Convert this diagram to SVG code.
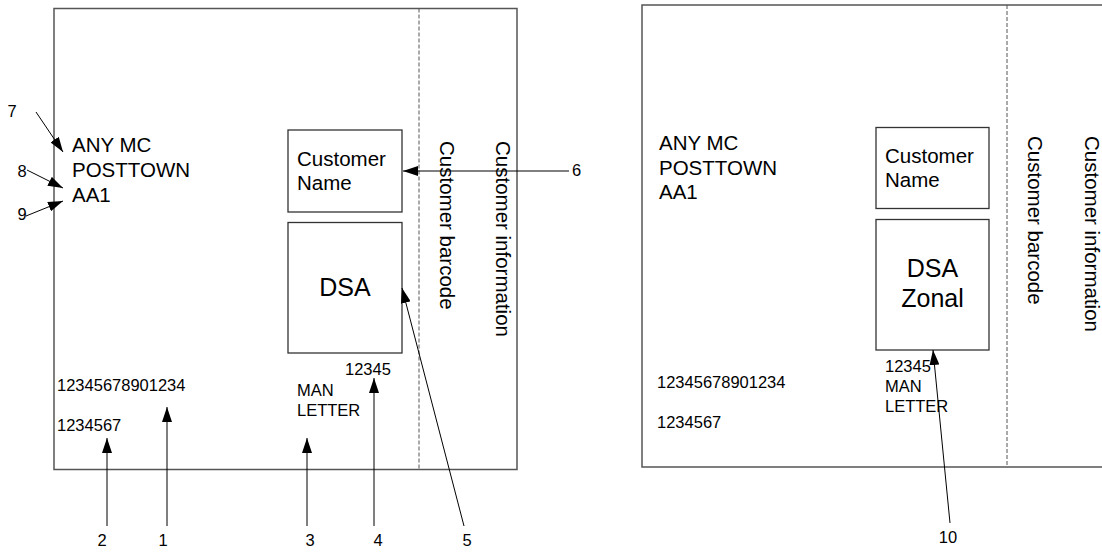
<svg xmlns="http://www.w3.org/2000/svg" width="1102" height="553" viewBox="0 0 1102 553">
<style>
.env{fill:none;stroke:#555;stroke-width:1.5}
.dash{stroke:#555;stroke-width:1;stroke-dasharray:4,2;fill:none}
.box{fill:#fff;stroke:#333;stroke-width:1.3}
.big{font-family:"Liberation Sans",Arial,sans-serif;font-size:20.5px;fill:#000}
.dsa{font-family:"Liberation Sans",Arial,sans-serif;font-size:25px;fill:#000;text-anchor:middle}
.sm{font-family:"Liberation Sans",Arial,sans-serif;font-size:16.5px;fill:#000}
.lbl{font-family:"Liberation Sans",Arial,sans-serif;font-size:16.5px;fill:#000;text-anchor:middle}
.arr{stroke:#000;stroke-width:1;fill:none;marker-end:url(#ah)}
</style>
<defs>
<marker id="ah" viewBox="0 0 15 10" refX="15" refY="5" markerWidth="15" markerHeight="10" markerUnits="userSpaceOnUse" orient="auto">
<path d="M0,0 L15,5 L0,10 z" fill="#000"/>
</marker>
</defs>
<g id="envelope-left">
<rect class="env" x="54" y="8.5" width="463" height="461"/>
<line class="dash" x1="419" y1="8.5" x2="419" y2="469.5"/>
<text class="big" x="72" y="152">ANY MC</text>
<text class="big" x="72" y="177">POSTTOWN</text>
<text class="big" x="72" y="202">AA1</text>
<text class="sm" x="57" y="391">12345678901234</text>
<text class="sm" x="57" y="431">1234567</text>
<text class="sm" x="345" y="375">12345</text>
<text class="sm" x="297" y="396">MAN</text>
<text class="sm" x="297" y="416">LETTER</text>
<text class="big" transform="translate(440,141) rotate(90)">Customer barcode</text>
<text class="big" transform="translate(496,141) rotate(90)">Customer information</text>
</g>
<g id="name-box-left">
<rect class="box" x="288" y="130" width="114" height="82"/>
<text class="big" x="297" y="166">Customer</text>
<text class="big" x="297" y="190">Name</text>
</g>
<g id="dsa-box-left">
<rect class="box" x="288" y="222.5" width="114" height="130.5"/>
<text class="dsa" x="345" y="296">DSA</text>
</g>
<g id="envelope-right">
<rect class="env" x="642" y="5" width="470" height="462"/>
<line class="dash" x1="1007" y1="5" x2="1007" y2="467"/>
<text class="big" x="659" y="150">ANY MC</text>
<text class="big" x="659" y="174.5">POSTTOWN</text>
<text class="big" x="659" y="199">AA1</text>
<text class="sm" x="657" y="388">12345678901234</text>
<text class="sm" x="657" y="428">1234567</text>
<text class="sm" x="885" y="372">12345</text>
<text class="sm" x="885" y="392">MAN</text>
<text class="sm" x="885" y="412">LETTER</text>
<text class="big" transform="translate(1028,136) rotate(90)">Customer barcode</text>
<text class="big" transform="translate(1085,136) rotate(90)">Customer information</text>
</g>
<g id="name-box-right">
<rect class="box" x="876" y="127.5" width="113" height="81"/>
<text class="big" x="885" y="163">Customer</text>
<text class="big" x="885" y="187">Name</text>
</g>
<g id="dsa-box-right">
<rect class="box" x="876" y="219.5" width="113" height="130.5"/>
<text class="dsa" x="932.5" y="277">DSA</text>
<text class="dsa" x="932.5" y="307">Zonal</text>
</g>
<g id="connectors">
<line class="arr" x1="36" y1="112" x2="63" y2="152"/>
<line class="arr" x1="27" y1="170" x2="63" y2="188"/>
<line class="arr" x1="26" y1="216" x2="63" y2="201"/>
<line class="arr" x1="569" y1="171" x2="403" y2="171"/>
<line class="arr" x1="107" y1="526" x2="107" y2="438"/>
<line class="arr" x1="167" y1="526" x2="167" y2="407"/>
<line class="arr" x1="307" y1="526" x2="307" y2="438"/>
<line class="arr" x1="374" y1="526" x2="374" y2="378"/>
<line class="arr" x1="464" y1="526" x2="402" y2="288"/>
<line class="arr" x1="950" y1="523" x2="933" y2="350"/>
</g>
<g id="labels">
<text class="lbl" x="12" y="117">7</text>
<text class="lbl" x="22" y="177">8</text>
<text class="lbl" x="22" y="220">9</text>
<text class="sm" x="572" y="176">6</text>
<text class="lbl" x="102" y="546">2</text>
<text class="lbl" x="163" y="546">1</text>
<text class="lbl" x="310" y="546">3</text>
<text class="lbl" x="378" y="546">4</text>
<text class="lbl" x="467" y="546">5</text>
<text class="lbl" x="948" y="543">10</text>
</g>
</svg>
